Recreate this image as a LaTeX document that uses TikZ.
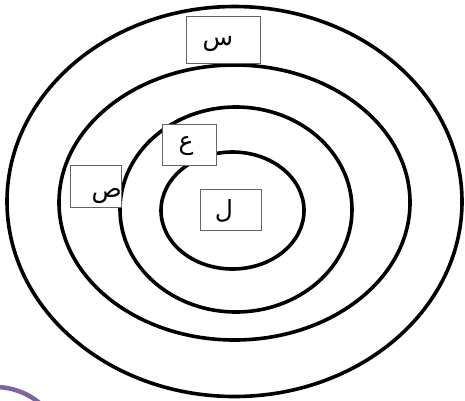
\documentclass[tikz,border=0pt]{standalone}
\usepackage{fontspec}
\newfontfamily\arabicfont[Script=Arabic]{DejaVu Sans}
\TeXXeTstate=1
\definecolor{ringpurple}{RGB}{128,100,162}
\definecolor{boxgray}{RGB}{100,100,100}
\begin{document}
\begin{tikzpicture}[x=1pt,y=-1pt,
  ring/.style={draw=black,line width=3.6pt},
  lbox/.style={draw=boxgray,fill=white,line width=0.9pt},
  lbl/.style={font=\arabicfont\fontsize{25}{28}\selectfont,inner sep=0pt}]
\useasboundingbox (0,0) rectangle (465,400);
\draw[draw=ringpurple,line width=4.5pt] (-5,457) circle[radius=70];
\draw[ring] (234.5,201.5) ellipse[x radius=227.5,y radius=195];
\draw[ring] (234.5,202.5) ellipse[x radius=175.5,y radius=137.5];
\draw[ring] (236,209.5) ellipse[x radius=116,y radius=102.5];
\draw[ring] (232.5,210.5) ellipse[x radius=71.5,y radius=58.5];
\draw[lbox] (186,16) rectangle (260,63);
\node[lbl] (s) at (218,44) {\beginR س\endR};
\draw[lbox] (162,124) rectangle (216,165);
\node[lbl] (ain) at (186,146) {\beginR ع\endR};
\draw[lbox] (70,165) rectangle (121,207);
\node[lbl,anchor=east] (sad) at (122,196) {\beginR ص\endR};
\draw[lbox] (200,189) rectangle (261,230);
\node[lbl] (lam) at (224,211) {\beginR ل\endR};
\end{tikzpicture}
\end{document}
